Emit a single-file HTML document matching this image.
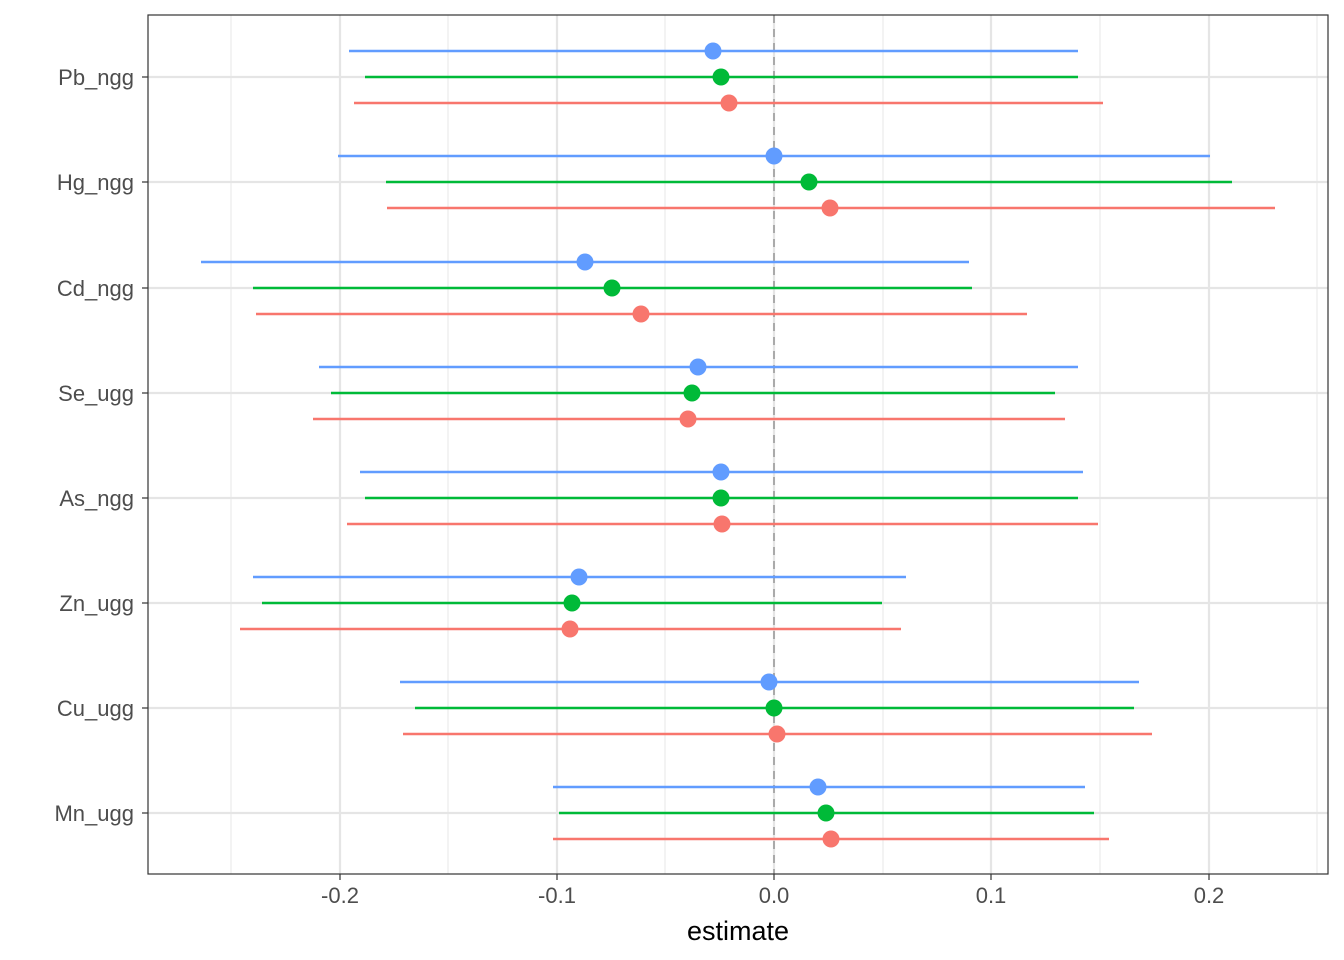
<!DOCTYPE html>
<html><head><meta charset="utf-8"><style>body{margin:0;background:#fff}svg{display:block}</style></head>
<body>
<svg width="1344" height="960" xmlns="http://www.w3.org/2000/svg" font-family="Liberation Sans, sans-serif">
<rect width="1344" height="960" fill="#fff"/>
<g stroke="#ebebeb" stroke-width="1.2">
<line x1="231" y1="15" x2="231" y2="874"/><line x1="448" y1="15" x2="448" y2="874"/><line x1="665" y1="15" x2="665" y2="874"/><line x1="883" y1="15" x2="883" y2="874"/><line x1="1100" y1="15" x2="1100" y2="874"/><line x1="1317" y1="15" x2="1317" y2="874"/>
</g>
<g stroke="#e5e5e5" stroke-width="2.2">
<line x1="340" y1="15" x2="340" y2="874"/><line x1="557" y1="15" x2="557" y2="874"/><line x1="774" y1="15" x2="774" y2="874"/><line x1="991" y1="15" x2="991" y2="874"/><line x1="1209" y1="15" x2="1209" y2="874"/>
<line x1="148" y1="77" x2="1328" y2="77"/><line x1="148" y1="182" x2="1328" y2="182"/><line x1="148" y1="288" x2="1328" y2="288"/><line x1="148" y1="393" x2="1328" y2="393"/><line x1="148" y1="498" x2="1328" y2="498"/><line x1="148" y1="603" x2="1328" y2="603"/><line x1="148" y1="708" x2="1328" y2="708"/><line x1="148" y1="813" x2="1328" y2="813"/>
</g>
<line x1="774" y1="15" x2="774" y2="874" stroke="#aaa" stroke-width="2" stroke-dasharray="8,6"/>
<g stroke-width="2.5">
<g stroke="#619CFF" fill="#619CFF">
<line x1="349" y1="51" x2="1078" y2="51"/><circle cx="713" cy="51" r="8.5" stroke="none"/>
<line x1="338" y1="156" x2="1210" y2="156"/><circle cx="774" cy="156" r="8.5" stroke="none"/>
<line x1="201" y1="262" x2="969" y2="262"/><circle cx="585" cy="262" r="8.5" stroke="none"/>
<line x1="319" y1="367" x2="1078" y2="367"/><circle cx="698" cy="367" r="8.5" stroke="none"/>
<line x1="360" y1="472" x2="1083" y2="472"/><circle cx="721" cy="472" r="8.5" stroke="none"/>
<line x1="253" y1="577" x2="906" y2="577"/><circle cx="579" cy="577" r="8.5" stroke="none"/>
<line x1="400" y1="682" x2="1139" y2="682"/><circle cx="769" cy="682" r="8.5" stroke="none"/>
<line x1="553" y1="787" x2="1085" y2="787"/><circle cx="818" cy="787" r="8.5" stroke="none"/>
</g>
<g stroke="#00BA38" fill="#00BA38">
<line x1="365" y1="77" x2="1078" y2="77"/><circle cx="721" cy="77" r="8.5" stroke="none"/>
<line x1="386" y1="182" x2="1232" y2="182"/><circle cx="809" cy="182" r="8.5" stroke="none"/>
<line x1="253" y1="288" x2="972" y2="288"/><circle cx="612" cy="288" r="8.5" stroke="none"/>
<line x1="331" y1="393" x2="1055" y2="393"/><circle cx="692" cy="393" r="8.5" stroke="none"/>
<line x1="365" y1="498" x2="1078" y2="498"/><circle cx="721" cy="498" r="8.5" stroke="none"/>
<line x1="262" y1="603" x2="882" y2="603"/><circle cx="572" cy="603" r="8.5" stroke="none"/>
<line x1="415" y1="708" x2="1134" y2="708"/><circle cx="774" cy="708" r="8.5" stroke="none"/>
<line x1="559" y1="813" x2="1094" y2="813"/><circle cx="826" cy="813" r="8.5" stroke="none"/>
</g>
<g stroke="#F8766D" fill="#F8766D">
<line x1="354" y1="103" x2="1103" y2="103"/><circle cx="729" cy="103" r="8.5" stroke="none"/>
<line x1="387" y1="208" x2="1275" y2="208"/><circle cx="830" cy="208" r="8.5" stroke="none"/>
<line x1="256" y1="314" x2="1027" y2="314"/><circle cx="641" cy="314" r="8.5" stroke="none"/>
<line x1="313" y1="419" x2="1065" y2="419"/><circle cx="688" cy="419" r="8.5" stroke="none"/>
<line x1="347" y1="524" x2="1098" y2="524"/><circle cx="722" cy="524" r="8.5" stroke="none"/>
<line x1="240" y1="629" x2="901" y2="629"/><circle cx="570" cy="629" r="8.5" stroke="none"/>
<line x1="403" y1="734" x2="1152" y2="734"/><circle cx="777" cy="734" r="8.5" stroke="none"/>
<line x1="553" y1="839" x2="1109" y2="839"/><circle cx="831" cy="839" r="8.5" stroke="none"/>
</g>
</g>
<rect x="148" y="15" width="1180" height="859" fill="none" stroke="#333" stroke-width="1.2"/>
<g stroke="#333" stroke-width="1.2">
<line x1="142" y1="77" x2="148" y2="77"/><line x1="142" y1="182" x2="148" y2="182"/><line x1="142" y1="288" x2="148" y2="288"/><line x1="142" y1="393" x2="148" y2="393"/><line x1="142" y1="498" x2="148" y2="498"/><line x1="142" y1="603" x2="148" y2="603"/><line x1="142" y1="708" x2="148" y2="708"/><line x1="142" y1="813" x2="148" y2="813"/>
<line x1="340" y1="874" x2="340" y2="880"/><line x1="557" y1="874" x2="557" y2="880"/><line x1="774" y1="874" x2="774" y2="880"/><line x1="991" y1="874" x2="991" y2="880"/><line x1="1209" y1="874" x2="1209" y2="880"/>
</g>
<g font-size="22" fill="#4d4d4d" text-anchor="end">
<text x="134" y="85">Pb_ngg</text><text x="134" y="190">Hg_ngg</text><text x="134" y="296">Cd_ngg</text><text x="134" y="401">Se_ugg</text><text x="134" y="506">As_ngg</text><text x="134" y="611">Zn_ugg</text><text x="134" y="716">Cu_ugg</text><text x="134" y="821">Mn_ugg</text>
</g>
<g font-size="22" fill="#4d4d4d" text-anchor="middle">
<text x="340" y="903">-0.2</text><text x="557" y="903">-0.1</text><text x="774" y="903">0.0</text><text x="991" y="903">0.1</text><text x="1209" y="903">0.2</text>
</g>
<text x="738" y="940" font-size="27" text-anchor="middle" fill="#000">estimate</text>
</svg>
</body></html>
